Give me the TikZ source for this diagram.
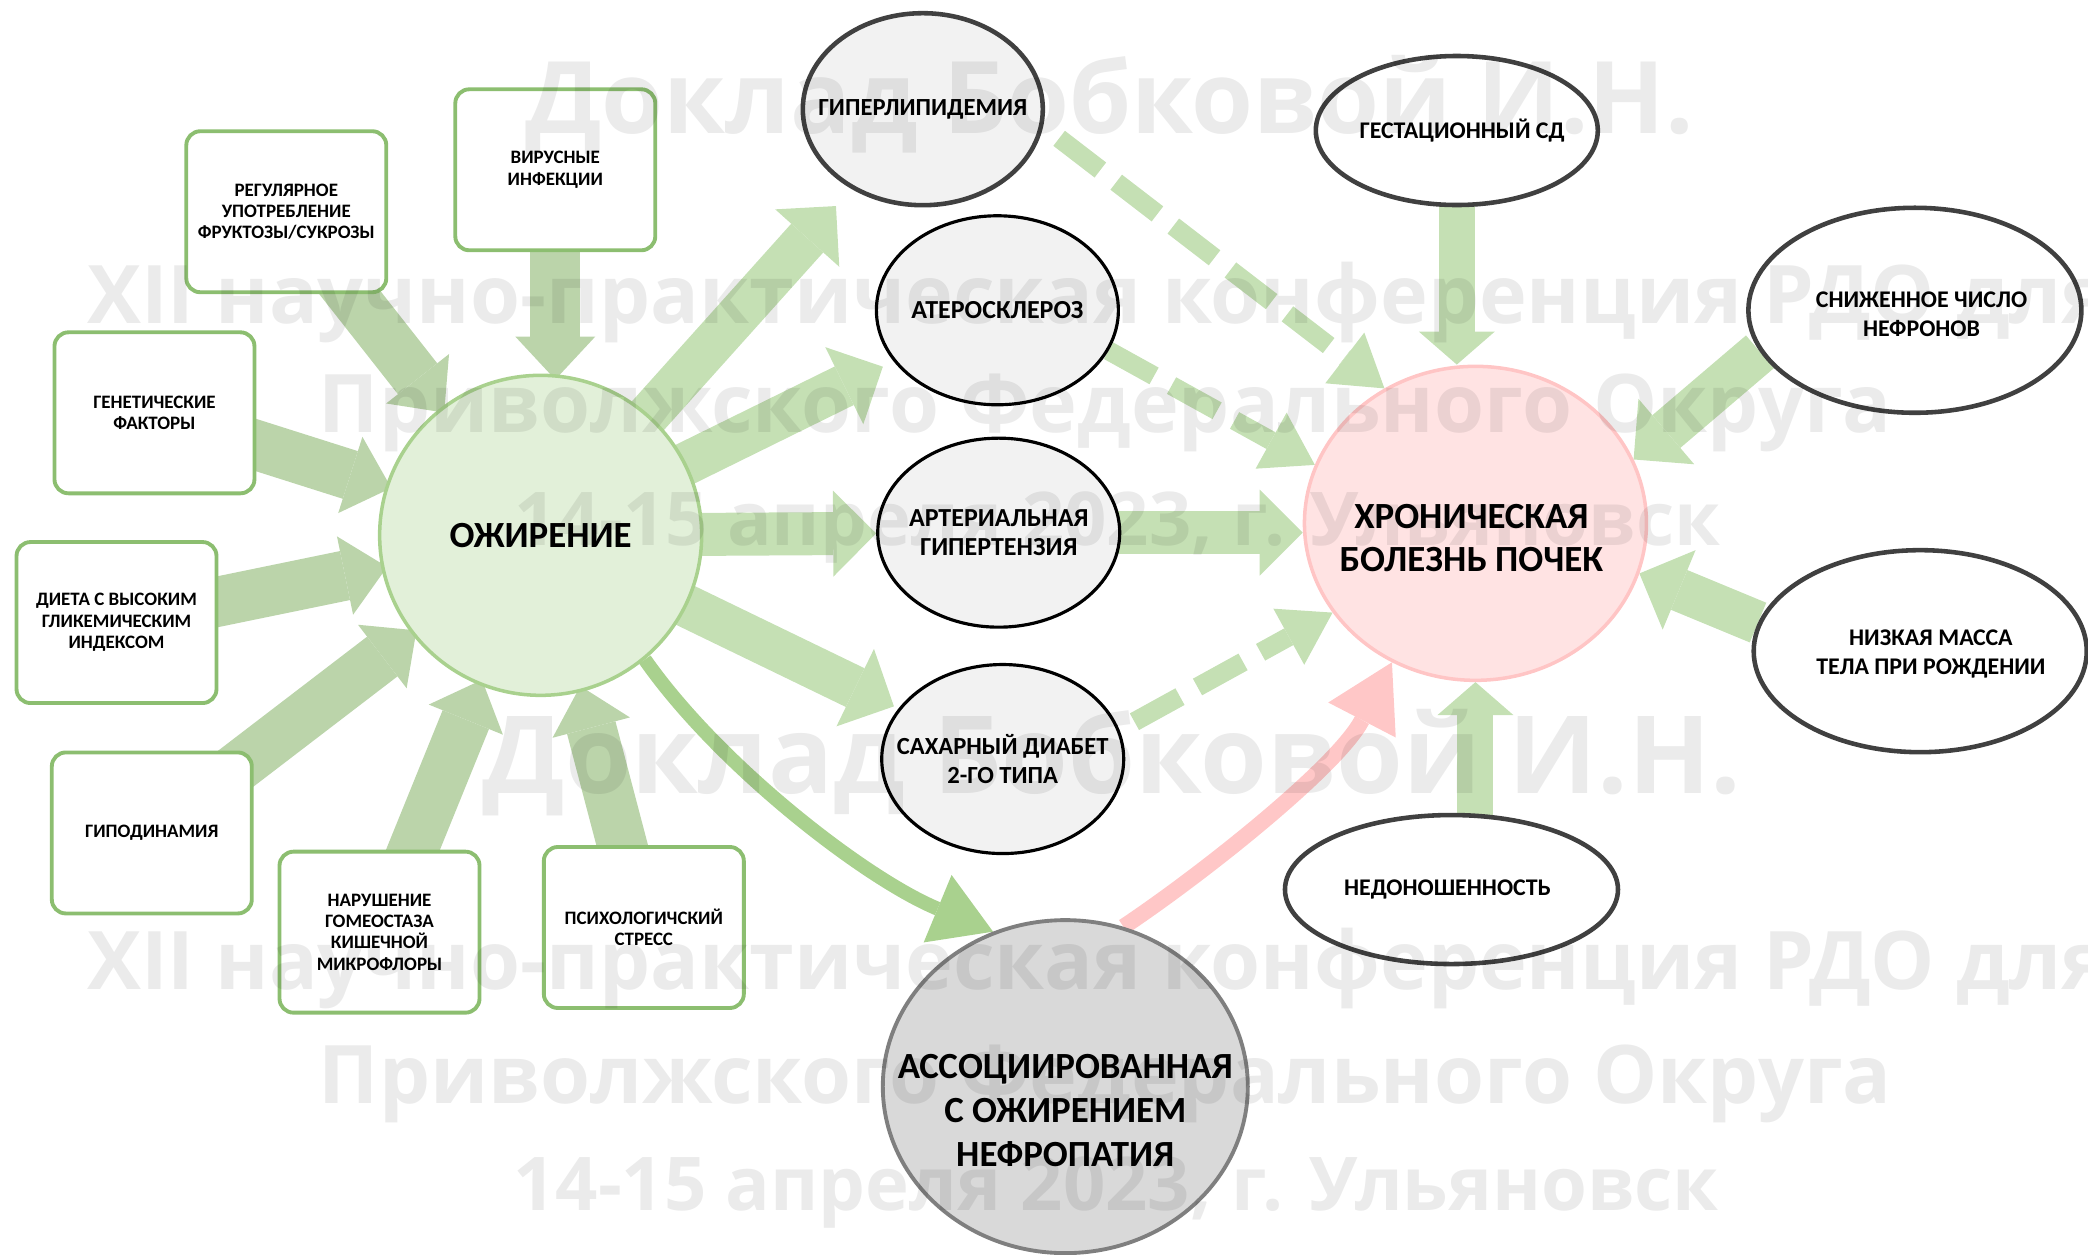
\documentclass[tikz,border=0pt]{standalone}
\usepackage{fontspec}
\setmainfont{Carlito}
\newfontfamily\wmfont{Open Sans}
\usetikzlibrary{shapes.geometric,arrows.meta,backgrounds,calc}
\definecolor{OBFill}{HTML}{E2F0D9}
\definecolor{OBEdge}{HTML}{A9D18E}
\definecolor{BXEdge}{HTML}{8CBE70}
\definecolor{INArrow}{HTML}{BBD4AA}
\definecolor{OUTArrow}{HTML}{C5E0B4}
\definecolor{GRFill}{HTML}{F2F2F2}
\definecolor{NPFill}{HTML}{D9D9D9}
\definecolor{NPEdge}{HTML}{7F7F7F}
\definecolor{KDFill}{HTML}{FFE3E3}
\definecolor{KDEdge}{HTML}{FFC5C5}
\definecolor{KDArrow}{HTML}{FFC7C7}
\definecolor{DKEdge}{HTML}{404040}
\tikzset{
  factor/.style={draw=BXEdge, line width=1.1pt, fill=white, rounded corners=1.4mm,
    minimum width=20mm, minimum height=16.1mm, inner sep=0.5mm, align=center,
    font=\bfseries\fontsize{5.4}{6.1}\selectfont},
  comorb/.style={ellipse, draw=black, line width=0.9pt, fill=GRFill,
    minimum width=24.2mm, minimum height=18.9mm, inner sep=0},
  riskell/.style={ellipse, draw=DKEdge, line width=1.3pt, fill=white, inner sep=0},
  elltext/.style={align=center, inner sep=0, font=\bfseries\fontsize{7}{8.1}\selectfont},
  risktext/.style={elltext, font=\bfseries\fontsize{6.8}{8.3}\selectfont},
  bigtext/.style={align=center, inner sep=0, font=\bfseries\fontsize{10.5}{12.5}\selectfont},
  inarrow/.style={draw=INArrow, line width=5mm, shorten >=-0.6mm,
    -{Triangle[width=8mm, length=4.3mm, line width=0pt]}},
  outarrow/.style={draw=OUTArrow, line width=4.3mm,
    -{Triangle[width=8.6mm, length=4.3mm, line width=0pt]}},
  thinarrow/.style={draw=OUTArrow, line width=3.6mm,
    -{Triangle[width=7.6mm, length=3.3mm, line width=0pt]}},
  dasharrow/.style={draw=OUTArrow, line width=1.9mm, dash pattern=on 5.2mm off 2mm,
    -{Triangle[width=6.4mm, length=5mm, line width=0pt]}},
  wm/.style={text=black, text opacity=0.08, inner sep=0, anchor=base west,
    font=\wmfont\bfseries\fontsize{23}{23}\selectfont},
}
\begin{document}
\begin{tikzpicture}[x=0.13316mm, y=-0.13316mm]
\useasboundingbox (0,0) rectangle (1568,942);
% risk factors of obesity
\node[factor] (reg) at (215,159) {РЕГУЛЯРНОЕ\\УПОТРЕБЛЕНИЕ\\ФРУКТОЗЫ/СУКРОЗЫ};
\node[factor] (vir) at (417,127.5) {ВИРУСНЫЕ\\ИНФЕКЦИИ};
\node[factor] (gen) at (116,310) {ГЕНЕТИЧЕСКИЕ\\ФАКТОРЫ};
\node[factor] (diet) at (87.5,467.5) {ДИЕТА С ВЫСОКИМ\\ГЛИКЕМИЧЕСКИМ\\ИНДЕКСОМ};
\node[factor] (hypo) at (114,625.5) {ГИПОДИНАМИЯ};
\node[factor] (micro) at (285,700) {НАРУШЕНИЕ\\ГОМЕОСТАЗА\\КИШЕЧНОЙ\\МИКРОФЛОРЫ};
\node[factor] (stress) at (483.5,696.5) {ПСИХОЛОГИЧСКИЙ\\СТРЕСС};
\node[ellipse, draw=OBEdge, line width=1pt, fill=OBFill, minimum width=32.2mm,
  minimum height=32mm, inner sep=0, bigtext] (obe) at (406,402) {ОЖИРЕНИЕ};
% comorbidities
\node[comorb, draw=DKEdge, line width=1.3pt, minimum width=24mm, minimum height=19.2mm] (lipid) at (693,82) {};
\node[elltext] (lipidtxt) at (lipid) {ГИПЕРЛИПИДЕМИЯ};
\node[comorb] (ather) at (749,233) {};
\node[elltext, font=\bfseries\fontsize{7.4}{8.1}\selectfont] (athertxt) at (ather) {АТЕРОСКЛЕРОЗ};
\node[comorb] (hyper) at (750,400) {};
\node[elltext, font=\bfseries\fontsize{7.4}{8.1}\selectfont] (hypertxt) at (hyper) {АРТЕРИАЛЬНАЯ\\ГИПЕРТЕНЗИЯ};
\node[comorb] (diab) at (753,570) {};
\node[elltext] (diabtxt) at (diab) {САХАРНЫЙ ДИАБЕТ\\2-ГО ТИПА};
\node[ellipse, draw=NPEdge, line width=1.1pt, fill=NPFill, minimum width=36.5mm,
  minimum height=33.3mm] (nephro) at (800,816) {};
\node[bigtext] (nephrotxt) at (800,834) {АССОЦИИРОВАННАЯ\\С ОЖИРЕНИЕМ\\НЕФРОПАТИЯ};
\node[ellipse, draw=KDEdge, line width=1pt, fill=KDFill, minimum width=34.2mm,
  minimum height=31.4mm] (ckd) at (1108,393) {};
\node[bigtext] (ckdtxt) at (1105,404) {ХРОНИЧЕСКАЯ\\БОЛЕЗНЬ ПОЧЕК};
% other risk factors of CKD
\node[riskell, minimum width=28.2mm, minimum height=14.9mm] (gest) at (1094,98) {};
\node[risktext] (gesttxt) at (1098,98) {ГЕСТАЦИОННЫЙ СД};
\node[riskell, minimum width=33.3mm, minimum height=20.5mm] (nephr) at (1438,233) {};
\node[risktext] (nephrtxt) at (1443,236) {СНИЖЕННОЕ ЧИСЛО\\НЕФРОНОВ};
\node[riskell, minimum width=33.3mm, minimum height=20.2mm] (lbw) at (1442,489) {};
\node[risktext] (lbwtxt) at (1450,491) {НИЗКАЯ МАССА\\ТЕЛА ПРИ РОЖДЕНИИ};
\node[riskell, minimum width=33.3mm, minimum height=14.9mm] (preterm) at (1090,668) {};
\node[risktext] (pretermtxt) at (1087,668) {НЕДОНОШЕННОСТЬ};

\begin{scope}[on background layer]
  \foreach \src in {reg,gen,diet,hypo,micro,stress}
    \draw[inarrow] (\src.center) -- (obe);
  \draw[inarrow] (vir.center) -- (vir.center |- obe.north);
  \draw[outarrow, shorten >=2.3mm] (obe.center) -- (lipid);
  \draw[outarrow, shorten >=1.2mm] (obe.center) -- (ather);
  \draw[outarrow] (obe.center) -- (hyper);
  \draw[outarrow, shorten >=0.5mm] (obe.center) -- (diab);
  \draw[outarrow] (hyper.center) -- (hyper.center -| ckd.west);
  \draw[thinarrow] (gest.center) -- (gest.center |- ckd.north);
  \draw[thinarrow] (preterm.center -| ckd.south) -- (ckd.south);
  \draw[outarrow] (nephr.195) -- (ckd.22);
  \draw[outarrow] (lbw.170) -- (ckd.-17);
  \draw[dasharrow, shorten <=2mm] (lipid.-8) -- (ckd.124);
  \draw[dasharrow] (ather.-20) -- (ckd.160);
  \draw[dasharrow, shorten <=1.7mm] (diab.14) -- (ckd.212);
  \draw[draw=OBEdge, line width=1.4mm, -{Triangle[width=7.3mm, length=6mm, line width=0pt]}]
    (obe.-50) .. controls (540,575) and (650,660) .. (nephro.115);
  \draw[draw=KDArrow, line width=1.6mm, -{Triangle[width=7.6mm, length=6.5mm, line width=0pt]}]
    (nephro.70) .. controls (905,655) and (1005,575) .. (ckd.239);
\end{scope}

% watermark
\node[wm, font=\wmfont\bfseries\fontsize{28.5}{28.5}\selectfont] (wmA) at (394,100) {Доклад Бобковой И.Н.};
\node[wm] (wmB) at (65,243) {XII научно-практическая конференция РДО для};
\node[wm] (wmC) at (239,325) {Приволжского Федерального Округа};
\node[wm, font=\wmfont\bfseries\fontsize{21.1}{21.1}\selectfont] (wmD) at (386,410) {14-15 апреля 2023, г. Ульяновск};
\node[wm, font=\wmfont\bfseries\fontsize{30.7}{30.7}\selectfont] (wmE) at (362,596) {Доклад Бобковой И.Н.};
\node[wm] (wmF) at (65,743) {XII научно-практическая конференция РДО для};
\node[wm] (wmG) at (239,829) {Приволжского Федерального Округа};
\node[wm, font=\wmfont\bfseries\fontsize{21.1}{21.1}\selectfont] (wmH) at (385,909) {14-15 апреля 2023, г. Ульяновск};
\end{tikzpicture}
\end{document}
